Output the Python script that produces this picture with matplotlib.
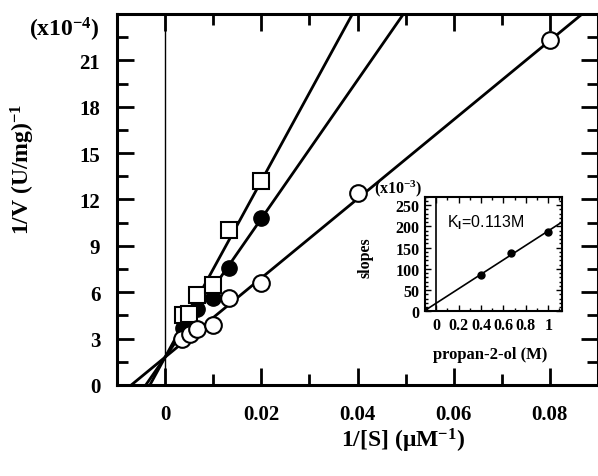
import numpy as np
import matplotlib.pyplot as plt
from matplotlib.ticker import MultipleLocator

plt.rcParams['font.family'] = 'Liberation Serif'
plt.rcParams['font.weight'] = 'bold'
plt.rcParams['mathtext.fontset'] = 'custom'
plt.rcParams['mathtext.rm'] = 'Liberation Serif:bold'
plt.rcParams['mathtext.bf'] = 'Liberation Serif:bold'
plt.rcParams['mathtext.sf'] = 'Liberation Sans'
plt.rcParams['mathtext.default'] = 'rm'

# Lineweaver-Burk data (1/[S] in uM^-1, 1/V in 1e-4 (U/mg)^-1)
x_open = [0.0035, 0.0052, 0.0066, 0.01, 0.0133, 0.02, 0.04, 0.08]
y_open = [3.0, 3.3, 3.6, 3.9, 5.6, 6.6, 12.4, 22.3]
x_fill = [0.0037, 0.005, 0.0067, 0.01, 0.0133, 0.02]
y_fill = [3.7, 4.3, 4.9, 5.6, 7.6, 10.8]
x_sq = [0.0037, 0.005, 0.0067, 0.01, 0.0133, 0.02]
y_sq = [4.5, 4.6, 5.85, 6.5, 10.0, 13.2]

# fitted lines: intercept, slope
line_open = (1.8, 256)
line_fill = (1.8, 448)
line_sq = (1.8, 570)

x_ticks = [0, 0.02, 0.04, 0.06, 0.08]
x_ticklabels = ['0', '0.02', '0.04', '0.06', '0.08']
y_ticks = [0, 3, 6, 9, 12, 15, 18, 21]

# inset: replot of slopes vs propan-2-ol
ins_x = [0.4, 0.67, 1.0]
ins_y = [86, 138, 188]
ins_line = (19.5, 170)
ki = 0.113
ins_xticks = [0, 0.2, 0.4, 0.6, 0.8, 1.0]
ins_xticklabels = ['0', '0.2', '0.4', '0.6', '0.8', '1']
ins_yticks = [0, 50, 100, 150, 200, 250]

fig = plt.figure(figsize=(5.98, 4.77), dpi=100)
ax = fig.add_axes([0.1957, 0.1908, 0.8043, 0.7778])

xx = np.array([-0.01, 0.09])
for b, m in (line_open, line_fill, line_sq):
    ax.plot(xx, b + m * xx, color='k', lw=2, zorder=2)
ax.axvline(0, color='k', lw=1, zorder=1)

ax.plot(x_fill, y_fill, 'o', ms=11, mfc='k', mec='k', zorder=3)
ax.plot(x_sq, y_sq, 's', ms=12, mfc='white', mec='k', mew=1.5, zorder=4)
ax.plot(x_open, y_open, 'o', ms=12, mfc='white', mec='k', mew=1.5, zorder=5)

ax.set_xlim(-0.01, 0.09)
ax.set_ylim(0, 24)
ax.set_xticks(x_ticks)
ax.set_xticklabels(x_ticklabels)
ax.set_yticks(y_ticks)
ax.xaxis.set_minor_locator(MultipleLocator(0.01))
ax.yaxis.set_minor_locator(MultipleLocator(1.5))
ax.tick_params(which='both', direction='in', top=True, right=True, width=2,
               labelsize=15)
ax.tick_params(axis='x', pad=14)
ax.tick_params(axis='y', pad=12)
ax.tick_params(which='major', length=12)
ax.tick_params(which='minor', length=8)
for s in ax.spines.values():
    s.set_linewidth(2.2)

fig.text(0.038, 0.646, r'1/V (U/mg)$^{-1}$', rotation=90, ha='center',
         va='center', fontsize=17)
fig.text(0.107, 0.937, r'(x10$^{-4}$)', ha='center', va='center', fontsize=17)
fig.text(0.674, 0.076, r'1/[S] ($\mu$M$^{-1}$)', ha='center', va='center',
         fontsize=17)

# inset
ai = fig.add_axes([0.7107, 0.3449, 0.2286, 0.2407])
xi = np.array([-ki, 1.15])
ai.plot(xi, ins_line[0] + ins_line[1] * xi, color='k', lw=1.2)
ai.axvline(0, color='k', lw=1.2)
ai.plot(ins_x, ins_y, 'o', ms=5, color='k')
ai.plot([-ki], [0], 's', ms=5, color='k')
ai.set_xlim(-0.1, 1.12)
ai.set_ylim(0, 270)
ai.set_xticks(ins_xticks)
ai.set_xticklabels(ins_xticklabels)
ai.set_yticks(ins_yticks)
ai.xaxis.set_minor_locator(MultipleLocator(0.1))
ai.yaxis.set_minor_locator(MultipleLocator(10))
ai.tick_params(which='both', direction='in', top=True, right=True, width=1,
               labelsize=11.5, pad=4)
ai.tick_params(which='major', length=4)
ai.tick_params(which='minor', length=2)
for s in ai.spines.values():
    s.set_linewidth(1.5)
ai.text(0.16, 0.78, r'K$_\mathsf{I}$=0.113M', transform=ai.transAxes,
        family='Liberation Sans', fontweight='normal', fontsize=11.5,
        va='center')
fig.text(0.612, 0.459, 'slopes', rotation=90, ha='center', va='center',
         fontsize=11.5)
fig.text(0.666, 0.604, r'(x10$^{-3}$)', ha='center', va='center', fontsize=11.5)
fig.text(0.82, 0.256, 'propan-2-ol (M)', ha='center', va='center', fontsize=12)

fig.savefig('out.png', dpi=100)
